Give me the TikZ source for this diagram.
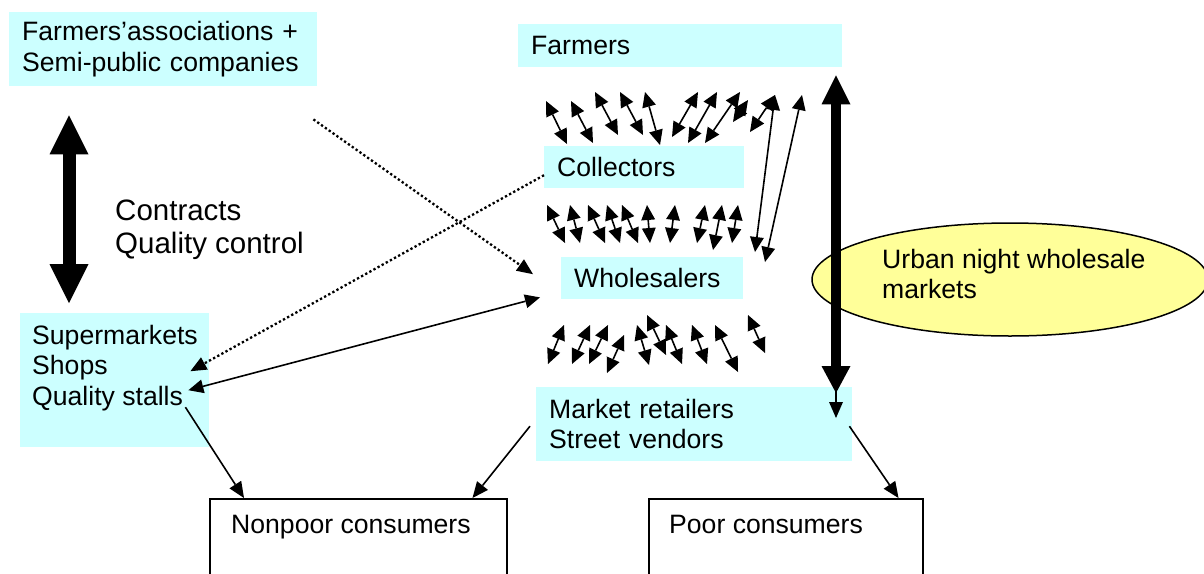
\documentclass[tikz,border=0pt]{standalone}
\usepackage{fontspec}
\setmainfont{Liberation Sans}
\usetikzlibrary{arrows.meta,shapes.geometric}
\definecolor{actor}{HTML}{CCFFFF}
\definecolor{nightmarket}{HTML}{FFFF99}

\begin{document}
\begin{tikzpicture}[x=1pt,y=-1pt,font=\fontsize{26.6}{30.5}\selectfont,
  tradetip/.tip={Triangle[length=15pt,width=14pt,line width=0pt]},
  flowtip/.tip={Triangle[length=16pt,width=14pt,line width=0pt]},
  tier/.style={fill=actor,anchor=north west,inner xsep=13pt,inner ysep=0pt,align=left},
  consumer/.style={draw,line width=1.5pt,fill=white,anchor=north west,minimum height=110pt},
  txt/.style={inner sep=0pt,align=left},
  trade/.style={line width=1.6pt,tradetip-tradetip},
  flow/.style={line width=1.6pt,-flowtip},
  hint/.style={line width=2.3pt,dash pattern=on 2.3pt off 2.4pt,-flowtip},
  contract/.style={line width=13pt,
    arrows={Triangle[length=39pt,width=39pt,line width=0pt]-Triangle[length=39pt,width=39pt,line width=0pt]}},
  supply/.style={line width=10pt,
    arrows={Triangle[length=29pt,width=29pt,line width=0pt]-Triangle[length=27pt,width=29pt,line width=0pt]}}]
  \useasboundingbox (0,0) rectangle (1204,573);
  \clip (0,0) rectangle (1204,573);

  % Actors along the chain (cyan) and the two consumer groups.
  \node[tier,text width=282pt,minimum height=74pt] (assoc) at (9,12) {Farmers'associations +\\Semi-public companies};
  \node[tier,text width=298pt,minimum height=43pt] (farmers) at (518,24) {Farmers};
  \node[tier,text width=174pt,minimum height=42pt] (collectors) at (544,146) {Collectors};
  \node[tier,text width=156pt,minimum height=42pt] (wholesalers) at (561,257) {Wholesalers};
  \node[tier,text width=290pt,minimum height=74pt] (retailers) at (536,387) {Market retailers\\Street vendors};
  \node[tier,minimum width=189pt,minimum height=134pt] (shops) at (20,313) {};
  \node[txt,anchor=north west] (shopsname) at (32,325) {Supermarkets\\Shops\\Quality stalls};

  \node[consumer,minimum width=297pt] (nonpoor) at (209,498) {};
  \node[txt,anchor=base west] (nonpoorname) at (231,533) {Nonpoor consumers};
  \node[consumer,minimum width=274pt] (poor) at (648,498) {};
  \node[txt,anchor=base west] (poorname) at (669,533) {Poor consumers};

  \node[ellipse,draw,line width=1.5pt,fill=nightmarket,minimum width=396pt,minimum height=113pt,inner sep=0pt] (night) at (1010,279.5) {};
  \node[txt,anchor=north west] (nightname) at (882,249) {Urban night wholesale\\markets};

  \node[txt,anchor=north west,font=\fontsize{29.5}{33}\selectfont] (terms) at (115,200) {Contracts\\Quality control};

  % Contract link and the flow through the night markets.
  \draw[contract,shorten <=29pt,shorten >=10pt] (assoc.south -| 69,0) -- (shops.north -| 69,0);
  \draw[supply,shorten <=8pt,shorten >=-6pt] (farmers.south -| 836,0) -- (retailers.north -| 836,0);
  \draw[flow] (retailers.north -| 836,0) -- ++(0,31);

  % Traders exchanging between the levels of the chain.
  \foreach \ax/\ay/\bx/\by in {546/101/567/144,571/101/593/143,595/92/618/135,620/92/643/135,
      645/92/660/145,698/92/672/137,717/92/688/143,740/92/705/143,748/100/733/122,
      775/95/750/132,775/95/755/252,802/95/765/262,
      547/205/565/243,570/205/580/243,588/205/605/243,607/205/620/243,622/205/638/243,
      647/205/650/243,675/205/670/243,705/205/697/243,722/205/713/250,738/205/732/243,
      564/325/548/364,590/325/572/364,608/325/589/364,624/335/607/373,637/325/649/365,
      647/315/666/355,666/325/682/364,692/325/707/364,715/325/738/372,748/315/765/353}
    \draw[trade] (\ax,\ay) -- (\bx,\by);

  % Modern channel: contracts and direct purchases.
  \draw[hint] ([xshift=-4pt,yshift=-33pt]assoc.south east) -- ([xshift=-28pt,yshift=4pt]wholesalers.west);
  \draw[hint] ([yshift=-8pt]collectors.west) -- ([xshift=-19pt,yshift=9pt]shops.east);
  \draw[trade] ([xshift=-21pt,yshift=2pt]wholesalers.south west) -- ([xshift=-21pt,yshift=-10pt]shops.east);

  % Sales to consumers.
  \draw[flow] ([xshift=-24pt,yshift=-27pt]shops.east) -- ([xshift=35pt]nonpoor.north west);
  \draw[flow] ([xshift=-6pt,yshift=-2pt]retailers.west) -- ([xshift=-35pt]nonpoor.north east);
  \draw[flow] ([xshift=-3pt,yshift=-2pt]retailers.east) -- ([xshift=-25pt]poor.north east);
\end{tikzpicture}
\end{document}
